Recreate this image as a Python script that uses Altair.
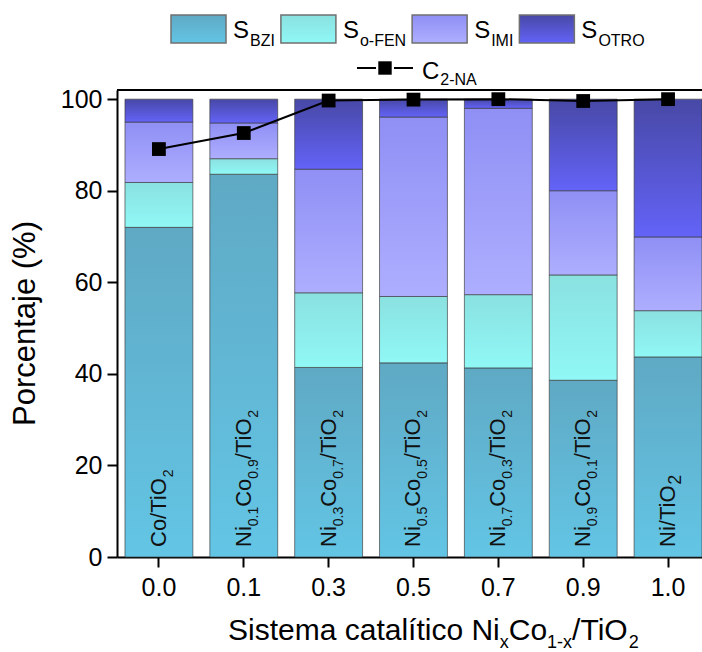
import altair as alt
import pandas as pd

# Catalytic systems NixCo1-x/TiO2 (x value on the axis)
x_labels = ["0.0", "0.1", "0.3", "0.5", "0.7", "0.9", "1.0"]

# Product selectivities (%) for each catalyst
s_bzi = [72.0, 83.6, 41.4, 42.4, 41.3, 38.6, 43.7]
s_ofen = [9.8, 3.4, 16.3, 14.5, 16.0, 23.0, 10.1]
s_imi = [13.2, 7.8, 27.0, 39.2, 40.7, 18.4, 16.1]
s_otro = [5.0, 5.2, 15.3, 3.9, 2.0, 20.0, 30.1]

# 2-nitroaniline conversion (%)
c_2na = [89.1, 92.6, 99.7, 99.9, 100.0, 99.6, 100.0]

# Composition subscripts written inside the mixed-metal bars
mixed_x = ["0.1", "0.3", "0.5", "0.7", "0.9"]
mixed_ni = ["0.1", "0.3", "0.5", "0.7", "0.9"]
mixed_co = ["0.9", "0.7", "0.5", "0.3", "0.1"]

series = [
    ("BZI", s_bzi, "#5fa9c4", "#63c5e5"),
    ("o-FEN", s_ofen, "#8ae1e0", "#90f8f6"),
    ("IMI", s_imi, "#8f8ff5", "#aeaeff"),
    ("OTRO", s_otro, "#4848a6", "#6363f8"),
]

FONT = "Liberation Sans"
W, H = 585, 467

# Advance widths (em) of the sans font, used to chain text runs
ADV = {' ': .278, '%': .889, '(': .333, ')': .333, '-': .333, '.': .278, '/': .278,
       'A': .667, 'B': .667, 'C': .722, 'E': .667, 'F': .611, 'I': .278, 'M': .833,
       'N': .722, 'O': .778, 'P': .667, 'R': .722, 'S': .667, 'T': .611, 'Z': .611,
       'a': .556, 'c': .5, 'e': .556, 'i': .222, 'í': .278, 'j': .222, 'l': .222,
       'm': .833, 'n': .556, 'o': .556, 'r': .333, 's': .5, 't': .278, 'x': .5}


def text_width(s, size):
    return sum(ADV.get(ch, .556) for ch in s) * size


def grad(top, bottom):
    return alt.Gradient(
        gradient="linear",
        stops=[alt.GradientStop(color=top, offset=0), alt.GradientStop(color=bottom, offset=1)],
        x1=0, x2=0, y1=0, y2=1,
    )


rows = []
for order, (name, vals, _, _) in enumerate(series):
    for xl, v in zip(x_labels, vals):
        rows.append({"x": xl, "series": name, "order": order, "value": v})
sel_df = pd.DataFrame(rows)
conv_df = pd.DataFrame({"x": x_labels, "conv": c_2na})
mix_df = pd.DataFrame({"x": mixed_x, "ni": mixed_ni, "co": mixed_co})
one = pd.DataFrame({"k": [0]})

x_enc = alt.X(
    "x:N",
    scale=alt.Scale(domain=x_labels, paddingInner=0.2, paddingOuter=0.047, align=1),
    axis=alt.Axis(title=None, labelAngle=0, labelPadding=8),
)
y_scale = alt.Scale(domain=[0, 102], nice=False, zero=True)
y_axis = alt.Axis(title=None, values=[0, 20, 40, 60, 80, 100], labelPadding=5)

layers = []

# Stacked selectivity bars, one layer per product so each gets its own gradient
for name, _, top, bottom in series:
    layers.append(
        alt.Chart(sel_df)
        .transform_stack(stack="value", groupby=["x"], as_=["y0", "y1"],
                         sort=[alt.SortField("order", order="ascending")])
        .transform_filter(alt.datum.series == name)
        .mark_bar(fill=grad(top, bottom), stroke="#3a3a3a", strokeWidth=1, strokeOpacity=0.65)
        .encode(x=x_enc, y=alt.Y("y0:Q", scale=y_scale, axis=y_axis), y2="y1:Q")
    )

# Catalyst names written vertically inside the bars
MAIN, SUB = 22, 14
LAB_Y = H - 10
MAIN_DY, SUB_DY = 7, 14

def bar_text(data, size, dx, dy, text=None, field=None, extra=None):
    kw = dict(angle=270, align="left", baseline="alphabetic", font=FONT,
              fontSize=size, color="#111111", dx=dx, dy=dy)
    if text is not None:
        kw["text"] = text
    ch = alt.Chart(data)
    if extra is not None:
        ch = ch.transform_filter(extra)
    enc = dict(x=x_enc, y=alt.value(LAB_Y))
    if field is not None:
        enc["text"] = alt.Text(field)
    return ch.mark_text(**kw).encode(**enc)

# Mixed catalysts: Ni_a Co_b /TiO_2
pos = 0.0
runs = [("Ni", MAIN, None), (None, SUB, "ni:N"), ("Co", MAIN, None),
        (None, SUB, "co:N"), ("/TiO", MAIN, None), ("2", SUB, None)]
for txt, size, field in runs:
    dy = MAIN_DY if size == MAIN else SUB_DY
    layers.append(bar_text(mix_df, size, pos, dy, text=txt, field=field))
    pos += text_width(txt if txt is not None else "0.0", size)

# Pure-metal catalysts
for xl, metal, sub_size, sub_dy in [("0.0", "Co", SUB, SUB_DY), ("1.0", "Ni", 18, 13)]:
    main = metal + "/TiO"
    flt = alt.datum.x == xl
    layers.append(bar_text(conv_df, MAIN, 0, MAIN_DY, text=main, extra=flt))
    layers.append(bar_text(conv_df, sub_size, text_width(main, MAIN), sub_dy, text="2", extra=flt))

# 2-NA conversion line with square markers
layers.append(
    alt.Chart(conv_df).mark_line(color="black", strokeWidth=2)
    .encode(x=x_enc, y=alt.Y("conv:Q", scale=y_scale, axis=y_axis))
)
layers.append(
    alt.Chart(conv_df).mark_point(shape="square", filled=True, size=190, color="black", opacity=1)
    .encode(x=x_enc, y=alt.Y("conv:Q", scale=y_scale, axis=y_axis))
)

# Top frame line
layers.append(
    alt.Chart(one).mark_rule(color="black", strokeWidth=2)
    .encode(x=alt.value(0), x2=alt.value(W), y=alt.value(0))
)

# Y title
layers.append(
    alt.Chart(one).mark_text(text="Porcentaje (%)", angle=270, align="center", baseline="middle",
                             font=FONT, fontSize=31, color="black")
    .encode(x=alt.value(-91), y=alt.value(H / 2))
)

# X title with subscripts
tx = 111.0
TMAIN, TSUB = 30, 18
for txt, is_sub in [("Sistema catalítico Ni", False), ("x", True), ("Co", False),
                    ("1-x", True), ("/TiO", False), ("2", True)]:
    size = TSUB if is_sub else TMAIN
    layers.append(
        alt.Chart(one).mark_text(text=txt, align="left", baseline="alphabetic", font=FONT,
                                 fontSize=size, color="black")
        .encode(x=alt.value(tx), y=alt.value(H + 83 + (8 if is_sub else 0)))
    )
    tx += text_width(txt, size)

# Legend: gradient swatches with subscripted labels
lx = 54.0
for name, _, top, bottom in series:
    layers.append(
        alt.Chart(one).mark_rect(fill=grad(top, bottom), stroke="#707070", strokeWidth=1.5)
        .encode(x=alt.value(lx), x2=alt.value(lx + 55), y=alt.value(-75), y2=alt.value(-47))
    )
    sx = lx + 55 + 7
    layers.append(
        alt.Chart(one).mark_text(text="S", align="left", baseline="alphabetic", font=FONT,
                                 fontSize=24, color="black")
        .encode(x=alt.value(sx), y=alt.value(-52))
    )
    bx = sx + text_width("S", 24) + 1
    layers.append(
        alt.Chart(one).mark_text(text=name, align="left", baseline="alphabetic", font=FONT,
                                 fontSize=16, color="black")
        .encode(x=alt.value(bx), y=alt.value(-44))
    )
    lx = bx + text_width(name, 16) + 6

# Legend entry for the conversion line: two short segments around the marker
for a, b in [(240, 259), (277, 296)]:
    layers.append(
        alt.Chart(one).mark_rule(color="black", strokeWidth=2)
        .encode(x=alt.value(a), x2=alt.value(b), y=alt.value(-22))
    )
layers.append(
    alt.Chart(one).mark_point(shape="square", filled=True, size=180, color="black", opacity=1)
    .encode(x=alt.value(268), y=alt.value(-22))
)
layers.append(
    alt.Chart(one).mark_text(text="C", align="left", baseline="alphabetic", font=FONT,
                             fontSize=24, color="black")
    .encode(x=alt.value(305), y=alt.value(-11))
)
layers.append(
    alt.Chart(one).mark_text(text="2-NA", align="left", baseline="alphabetic", font=FONT,
                             fontSize=16, color="black")
    .encode(x=alt.value(305 + text_width("C", 24) + 1), y=alt.value(-5))
)

chart = (
    alt.layer(*layers)
    .properties(width=W, height=H, autosize="none",
                padding={"left": 117, "top": 90, "right": 0, "bottom": 95})
    .configure_view(stroke=None)
    .configure_axis(
        grid=False, domainColor="black", domainWidth=2, tickColor="black", tickWidth=2,
        tickSize=10, labelFont=FONT, labelFontSize=25, labelColor="black",
    )
)

chart.save("out.html", embed_options={"renderer": "svg", "actions": False})
